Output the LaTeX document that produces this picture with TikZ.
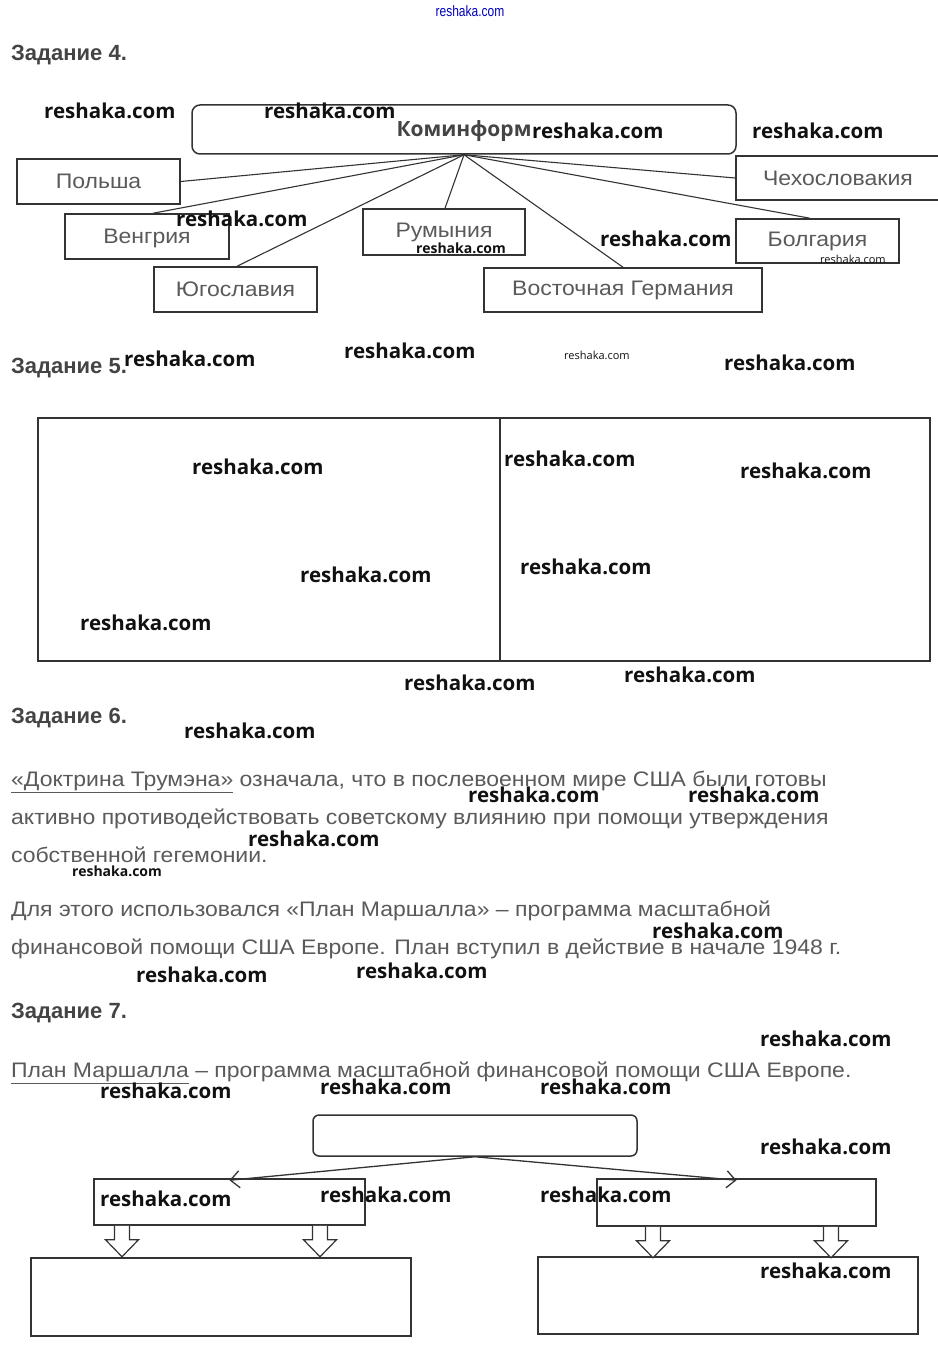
\documentclass[tikz,border=0pt]{standalone}
\usepackage{fontspec}
\setmainfont{Liberation Sans}
\newfontfamily\bodyf{Liberation Sans}[FakeStretch=1.095]
\newfontfamily\wmf{Open Sans}
\usetikzlibrary{calc,arrows.meta}
\definecolor{txt}{HTML}{5A5A5A}
\definecolor{hd}{HTML}{444444}
\definecolor{bd}{HTML}{333333}
\definecolor{wmc}{HTML}{111111}
\begin{document}
\begin{tikzpicture}[x=1pt,y=-1pt,
  box/.style={draw=bd,line width=1.5pt,inner sep=0pt,text=txt,font=\bodyf\fontsize{21}{21}\selectfont},
  emptybox/.style={draw=bd,line width=1.5pt,inner sep=0pt},
  link/.style={draw=bd,line width=1.1pt},
  head/.style={anchor=base west,inner sep=0pt,text=hd,font=\bfseries\fontsize{22}{22}\selectfont},
  para/.style={anchor=base west,inner sep=0pt,text=txt,font=\bodyf\fontsize{21}{21}\selectfont},
  wm/.style={anchor=west,inner sep=0pt,text=wmc,font=\wmf\bfseries\fontsize{#1}{#1}\selectfont},
  wmt/.style={anchor=west,inner sep=0pt,text=wmc,font=\wmf\fontsize{#1}{#1}\selectfont},
  barr/.style={draw=bd,line width=1.2pt,fill=white},
  arr/.style={draw=bd,line width=1.3pt,-{Straight Barb[length=9pt,width=17pt,line width=1.3pt]}}]
\fill[white] (0,0) rectangle (937,1348);
\useasboundingbox (0,0) rectangle (937,1348);

% top blue watermark
\node[inner sep=0pt,text=blue!75!black,font=\fontsize{15}{15}\selectfont] (wtop) at (470,11) {\scalebox{0.8}[1]{reshaka.com}};

% ---------------- Task 4
\node[head] (h4) at (11,61) {Задание 4.};
\node[box,rounded corners=8pt,minimum width=544pt,minimum height=49pt,text height=15pt,text depth=0pt,text=hd,font=\wmf\bfseries\fontsize{21}{21}\selectfont] (kom) at (464,129.5) {Коминформ};
\node[box,minimum width=163pt,minimum height=45pt] (pol) at (98.5,181.5) {Польша};
\node[box,minimum width=164pt,minimum height=45pt,text height=14pt,text depth=0pt] (ven) at (147,236.5) {Венгрия};
\node[box,minimum width=163pt,minimum height=45pt] (yug) at (235.5,289.5) {Югославия};
\node[box,minimum width=162pt,minimum height=46pt] (rum) at (444,232) {Румыния};
\node[box,minimum width=278pt,minimum height=44pt] (vg) at (623,290) {Восточная Германия};
\node[box,minimum width=163pt,minimum height=44pt] (bol) at (817.5,241) {Болгария};
\node[box,minimum width=204pt,minimum height=44pt] (cze) at (838,178) {Чехословакия};
\coordinate (hub) at (kom.south);
\draw[link] (hub) -- (pol.east);
\draw[link] (hub) -- ([xshift=6pt]ven.north);
\draw[link] (hub) -- ([xshift=1.5pt]yug.north);
\draw[link] (hub) -- ([xshift=1pt]rum.north);
\draw[link] (hub) -- (vg.north);
\draw[link] (hub) -- ([xshift=-7.5pt]bol.north);
\draw[link] (hub) -- (cze.west);

% ---------------- Task 5
\node[head] (h5) at (11,373) {Задание 5.};
\node[emptybox,minimum width=462pt,minimum height=243pt] (t5l) at (269,539.5) {};
\node[emptybox,minimum width=430pt,minimum height=243pt] (t5r) at (715,539.5) {};

% ---------------- Task 6
\node[head] (h6) at (11,723) {Задание 6.};
\node[para] (p1) at (11,786) {\underline{«Доктрина Трумэна»} означала, что в послевоенном мире США были готовы};
\node[para] (p2) at (11,824) {активно противодействовать советскому влиянию при помощи утверждения};
\node[para] (p3) at (11,862) {собственной гегемонии.};
\node[para] (p4) at (11,916) {Для этого использовался «План Маршалла» – программа масштабной};
\node[para] (p5) at (11,954) {финансовой помощи США Европе. План вступил в действие в начале 1948 г.};

% ---------------- Task 7
\node[head] (h7) at (11,1018) {Задание 7.};
\node[para] (p6) at (11,1077) {\underline{План Маршалла} – программа масштабной финансовой помощи США Европе.};
\node[emptybox,rounded corners=6pt,minimum width=324pt,minimum height=41pt] (top) at (475,1135.5) {};
\node[emptybox,minimum width=271pt,minimum height=46pt] (ml) at (229.5,1202) {};
\node[emptybox,minimum width=279pt,minimum height=47pt] (mr) at (736.5,1202.5) {};
\node[emptybox,minimum width=380pt,minimum height=78pt] (bl) at (221,1297) {};
\node[emptybox,minimum width=380pt,minimum height=77pt] (br) at (728,1295.5) {};
\draw[arr] (top.south) -- ([yshift=-2pt]ml.north);
\draw[arr] (top.south) -- ([yshift=-2pt]mr.north);
\newcommand\blockarr[1]{\draw[barr] #1 ++(-7.5,0) -- ++(0,14) -- ++(-9,0) -- ++(16.5,17) -- ++(16.5,-17) -- ++(-9,0) -- ++(0,-14);}
\blockarr{([xshift=-107.5pt]ml.south)}
\blockarr{([xshift=90.5pt]ml.south)}
\blockarr{([xshift=-83.5pt]mr.south)}
\blockarr{([xshift=94.5pt]mr.south)}

% ---------------- watermarks
\foreach \x/\y/\s [count=\i] in {44/111/20.5,264/111/20.5,532/131/20.5,752/131/20.5,176/219/20.5,416/248/14,600/239/20.5,
  124/359/20.5,344/351/20.5,724/363/20.5,192/467/20.5,504/459/20.5,740/471/20.5,300/575/20.5,520/567/20.5,80/623/20.5,404/683/20.5,624/675/20.5,
  184/731/20.5,468/795/20.5,688/795/20.5,248/839/20.5,72/871/14,652/931/20.5,136/975/20.5,356/971/20.5,
  760/1039/20.5,100/1091/20.5,320/1087/20.5,540/1087/20.5,760/1147/20.5,100/1199/20.5,320/1195/20.5,540/1195/20.5,760/1271/20.5}
  \node[wm=\s] (w\i) at (\x,\y) {reshaka.com};
\node[wmt=11] (wt1) at (820,259) {reshaka.com};
\node[wmt=11] (wt2) at (564,355) {reshaka.com};
\end{tikzpicture}
\end{document}
